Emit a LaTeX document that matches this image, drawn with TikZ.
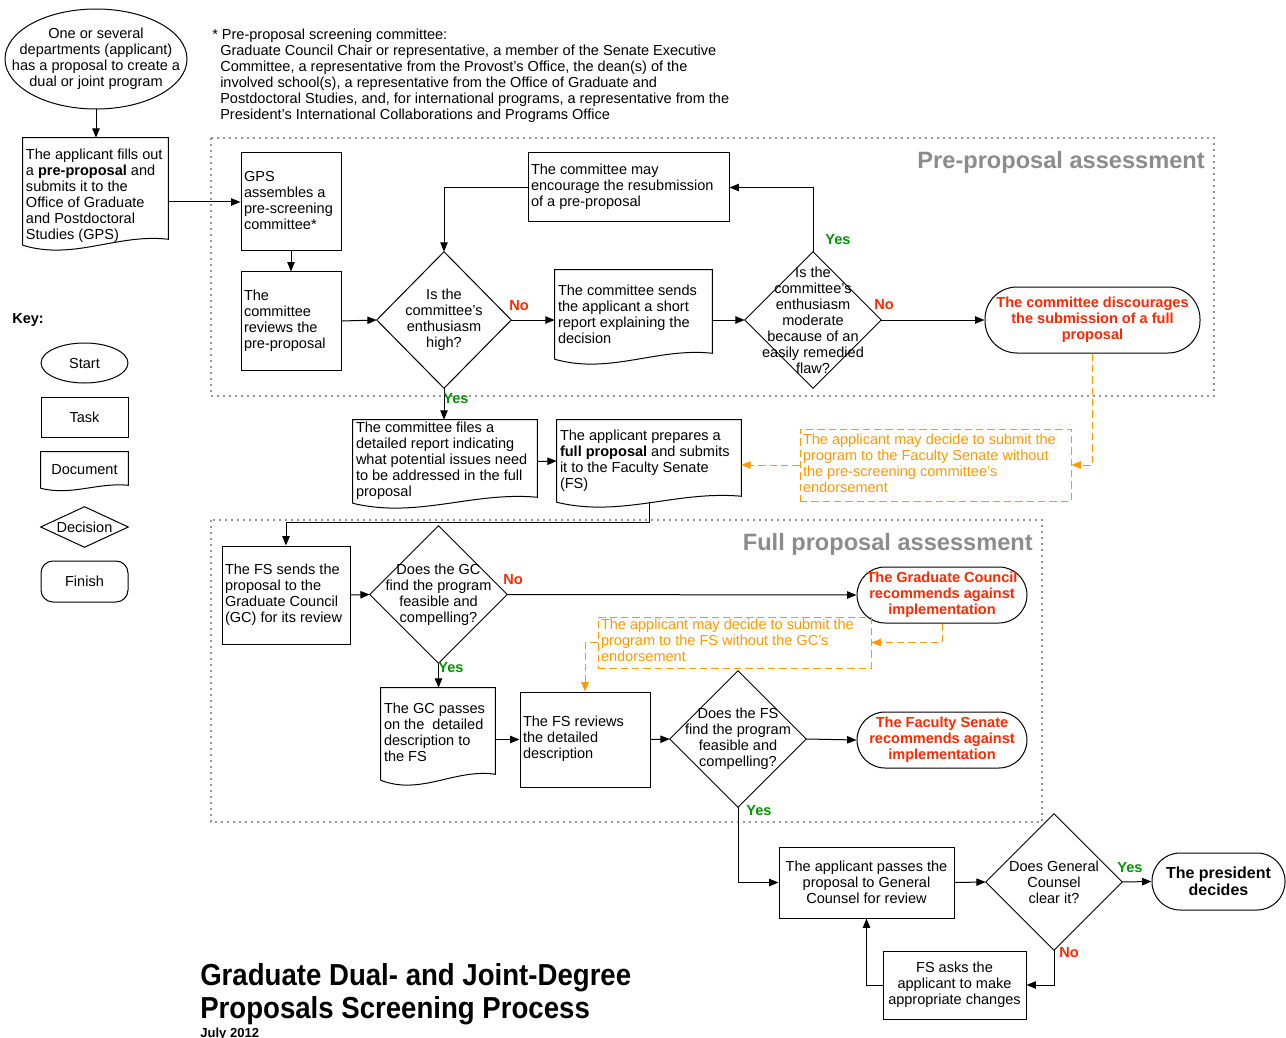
\documentclass[tikz,border=0pt]{standalone}
\usepackage{fontspec}
\setmainfont{Liberation Sans}
\usetikzlibrary{arrows.meta,calc}

\definecolor{nored}{RGB}{255,40,0}
\definecolor{yesgreen}{RGB}{0,150,0}
\definecolor{orng}{RGB}{255,153,0}
\definecolor{secgray}{RGB}{140,140,140}
\definecolor{boxgray}{RGB}{150,150,150}

\newcommand\fs{\fontsize{10.9}{12}\selectfont}
\newcommand\lftbox[2]{\makebox[\dimexpr0.75pt*#1\relax][l]{\begin{tabular}{@{}l@{}}#2\end{tabular}}}
\newcommand\lowerby[2]{\raisebox{-#1}[\height][\depth]{#2}}
\newcommand\docoutline[2]{%
  \draw[line] (#1.south west) -- (#1.north west) -- (#1.north east) -- ($(#1.south east)+(0,-#2)$)
    .. controls ($(#1.south west)!0.65!(#1.south east)+(0,-2*#2)$) and ($(#1.south west)!0.35!(#1.south east)+(0,2.6*#2)$) .. (#1.south west);}
\newcommand\dmd[1]{\draw[line] (#1.north) -- (#1.east) -- (#1.south) -- (#1.west) -- cycle;}

\tikzset{
  sz/.code 2 args={\pgfmathsetlengthmacro\szw{#1*0.75pt}\pgfmathsetlengthmacro\szh{#2*0.75pt}%
    \edef\sztmp{\noexpand\tikzset{minimum width=\szw, minimum height=\szh}}\sztmp},
  line/.style={line width=0.75pt, draw=black},
  arr/.style={line, -{Triangle[length=7pt,width=5.5pt]}},
  oarr/.style={line width=0.75pt, draw=orng, dash pattern=on 5.5pt off 3pt, -{Triangle[length=7pt,width=5.5pt]}},
  grp/.style={draw=boxgray, line width=0.9pt, dash pattern=on 1.5pt off 3pt},
  textnode/.style={rectangle, inner sep=0pt, align=center},
  taskbox/.style={draw, line width=0.75pt, rectangle, inner xsep=2.25pt, inner ysep=0pt},
  docbox/.style={rectangle, inner xsep=2.25pt, inner ysep=0pt},
  decision/.style={rectangle, inner sep=0pt, align=center},
  terminal/.style={draw, line width=0.75pt, rectangle, align=center, inner sep=0pt},
  redterm/.style={terminal, text=nored, font=\fs\bfseries},
  optbox/.style={draw=orng, line width=0.75pt, dash pattern=on 5.5pt off 3pt, text=orng, rectangle, inner xsep=2.25pt, inner ysep=0pt},
  yes/.style={font=\fs\bfseries, text=yesgreen, inner sep=0pt},
  no/.style={font=\fs\bfseries, text=nored, inner sep=0pt},
  sectitle/.style={font=\fontsize{17.7}{20}\selectfont\bfseries, text=secgray, anchor=east, inner sep=0pt},
}

\begin{document}
\begin{tikzpicture}[x=0.75pt,y=-0.75pt, every node/.style={font=\fs}]
\fill[white] (0,0) rectangle (1286,1038);
\useasboundingbox (0,0) rectangle (1286,1038);

% group boxes
\draw[grp] (211,138) rectangle (1214,396);
\draw[grp] (211,520) rectangle (1042,822);
\node[sectitle] (pretitle) at (1205,162) {Pre-proposal assessment};
\node[sectitle] (fulltitle) at (1033,544) {Full proposal assessment};

% footnote
\node[anchor=north west, inner sep=0pt, align=left] (note) at (212,29) {* Pre-proposal screening committee:\\
\hspace*{6pt}Graduate Council Chair or representative, a member of the Senate Executive\\
\hspace*{6pt}Committee, a representative from the Provost's Office, the dean(s) of the\\
\hspace*{6pt}involved school(s), a representative from the Office of Graduate and\\
\hspace*{6pt}Postdoctoral Studies, and, for international programs, a representative from the\\
\hspace*{6pt}President's International Collaborations and Programs Office};

% start
\node[textnode, sz={182}{100}] (start) at (96,59) {One or several\\departments (applicant)\\has a proposal to create a\\dual or joint program};
\draw[line] (start.center) ellipse [x radius=68.25pt, y radius=37.5pt];

\node[docbox, sz={145}{107}] (apply) at (95.5,191.5) {\lowerby{3.5pt}{\lftbox{139}{The applicant fills out\\a \textbf{pre-proposal} and\\submits it to the\\Office of Graduate\\and Postdoctoral\\Studies (GPS)}}};
\docoutline{apply}{6}

\node[taskbox, sz={100}{98}] (gps) at (291,202) {\lftbox{94}{GPS\\assembles a\\pre-screening\\committee*}};
\node[taskbox, sz={100}{98}] (reviews) at (291,321) {\lftbox{94}{The\\committee\\reviews the\\pre-proposal}};

\node[decision, sz={134}{136}] (d1) at (444,320) {Is the\\committee's\\enthusiasm\\high?};
\dmd{d1}

\node[taskbox, sz={201}{69}] (encourage) at (628.5,187.5) {\lftbox{195}{The committee may\\encourage the resubmission\\of a pre-proposal}};

\node[docbox, sz={157}{89}] (sends) at (633.5,314.5) {\lowerby{1.2pt}{\lftbox{151}{The committee sends\\the applicant a short\\report explaining the\\decision}}};
\docoutline{sends}{6}

\node[decision, sz={136}{136}] (d2) at (813,320) {Is the\\committee's\\enthusiasm\\moderate\\because of an\\easily remedied\\flaw?};
\dmd{d2}

\node[redterm, sz={215}{66}, rounded corners=24pt] (discourage) at (1092.5,320) {The committee discourages\\the submission of a full\\proposal};

\node[optbox, sz={271}{72}] (opt1) at (935.5,465) {\lftbox{265}{The applicant may decide to submit the\\program to the Faculty Senate without\\the pre-screening committee's\\endorsement}};

\node[docbox, sz={184}{83}] (files) at (445,461.5) {\lftbox{178}{The committee files a\\detailed report indicating\\what potential issues need\\to be addressed in the full\\proposal}};
\docoutline{files}{6}

\node[docbox, sz={184}{82}] (prepares) at (649,461) {\lftbox{178}{The applicant prepares a\\\textbf{full proposal} and submits\\it to the Faculty Senate\\(FS)}};
\docoutline{prepares}{6}

% full proposal
\node[taskbox, sz={128}{98}] (fssends) at (286,595) {\lftbox{122}{The FS sends the\\proposal to the\\Graduate Council\\(GC) for its review}};
\node[decision, sz={137}{137}] (d3) at (438.5,594.5) {Does the GC\\find the program\\feasible and\\compelling?};
\dmd{d3}
\node[redterm, sz={170}{56}, rounded corners=21pt] (gcterm) at (942,595) {The Graduate Council\\recommends against\\implementation};
\node[optbox, sz={273}{51}] (opt2) at (734.5,642.5) {\lftbox{267}{The applicant may decide to submit the\\program to the FS without the GC's\\endorsement}};
\node[docbox, sz={114}{92}] (gcpasses) at (438,734) {\lftbox{108}{The GC passes\\on the\ \ detailed\\description to\\the FS}};
\docoutline{gcpasses}{6}
\node[taskbox, sz={130}{95}] (fsreviews) at (585,739.5) {\lftbox{124}{The FS reviews\\the detailed\\description}};
\node[decision, sz={136}{136}] (d4) at (738,739) {Does the FS\\find the program\\feasible and\\compelling?};
\dmd{d4}
\node[redterm, sz={170}{56}, rounded corners=21pt] (fsterm) at (942,740) {The Faculty Senate\\recommends against\\implementation};

% final part
\node[taskbox, sz={175}{71}, align=center] (counsel) at (866.5,882.5) {The applicant passes the\\proposal to General\\Counsel for review};
\node[decision, sz={136}{136}] (d5) at (1054,882) {Does General\\Counsel\\clear it?};
\dmd{d5}
\node[terminal, sz={133}{57}, rounded corners=21pt, font=\fontsize{12}{12.75}\selectfont\bfseries] (president) at (1218.5,881.5) {The president\\decides};
\node[taskbox, sz={143}{68}, align=center] (fsasks) at (954.5,985) {FS asks the\\applicant to make\\appropriate changes};

% key
\node[font=\fs\bfseries, anchor=west, inner sep=0pt] (keylbl) at (12,320) {Key:};
\node[textnode, sz={87}{40}] (kstart) at (84.5,363) {Start};
\draw[line] (kstart.center) ellipse [x radius=32.6pt, y radius=15pt];
\node[taskbox, sz={87}{40}, align=center] (ktask) at (84.5,417) {Task};
\node[docbox, sz={87}{36}, align=center] (kdoc) at (84.5,470) {Document};
\docoutline{kdoc}{3}
\node[decision, sz={87}{40}] (kdec) at (84.5,527) {Decision};
\dmd{kdec}
\node[terminal, sz={87}{41}, rounded corners=9pt] (kfin) at (84.5,581.5) {Finish};

% title
\node[anchor=base west, inner sep=0pt, font=\fontsize{20.7}{24}\selectfont\bfseries] (title1) at (200,985) {\scalebox{1}[1.1]{Graduate Dual- and Joint-Degree}};
\node[anchor=base west, inner sep=0pt, font=\fontsize{20.7}{24}\selectfont\bfseries] (title2) at (200,1018) {\scalebox{1}[1.1]{Proposals Screening Process}};
\node[anchor=base west, inner sep=0pt, font=\fontsize{9.8}{11}\selectfont\bfseries] (date) at (200,1037) {July 2012};

% connectors
\draw[arr] (start.south) -- (start.south |- apply.north);
\draw[arr] (apply.east |- gps.west) -- (gps.west);
\draw[arr] (gps.south) -- (reviews.north);
\draw[arr] (reviews.east) -- (d1.west);
\draw[arr] (encourage.west) -| (d1.north);
\draw[arr] (d1.east) -- (d1.east -| sends.west);
\draw[arr] (sends.east |- d2.west) -- (d2.west);
\draw[arr] (d2.north) |- (encourage.east);
\draw[arr] (d2.east) -- (discourage.west);
\draw[arr] (d1.south) -- (d1.south |- files.north);
\draw[arr] (files.east) -- (prepares.west);
\draw[oarr] (discourage.south) |- (opt1.east);
\draw[oarr] (opt1.west) -- (opt1.west -| prepares.east);
\coordinate (j1) at (649,522);
\draw[arr] (prepares.south) -- (j1) -| (fssends.north);
\draw[arr] (fssends.east) -- (d3.west);
\draw[arr] (d3.east) -- (gcterm.west);
\draw[arr] (d3.south) -- (d3.south |- gcpasses.north);
\draw[oarr] (gcterm.south) |- (opt2.east);
\draw[oarr] (opt2.west) -| (fsreviews.north);
\draw[arr] (gcpasses.east |- fsreviews.west) -- (fsreviews.west);
\draw[arr] (fsreviews.east) -- (d4.west);
\draw[arr] (d4.east) -- (fsterm.west);
\draw[arr] (d4.south) |- (counsel.west);
\draw[arr] (counsel.east) -- (d5.west);
\draw[arr] (d5.east) -- (president.west);
\draw[arr] (d5.south) |- (fsasks.east);
\draw[arr] (fsasks.west) -| (counsel.south);

% yes / no labels
\node[no] (n1) at (519,306) {No};
\node[yes] (y1) at (456,399) {Yes};
\node[yes] (y2) at (838,240) {Yes};
\node[no] (n2) at (884,305) {No};
\node[no] (n3) at (513,580) {No};
\node[yes] (y3) at (451,668) {Yes};
\node[yes] (y4) at (759,811) {Yes};
\node[yes] (y5) at (1130,868) {Yes};
\node[no] (n5) at (1069,953) {No};
\end{tikzpicture}
\end{document}
